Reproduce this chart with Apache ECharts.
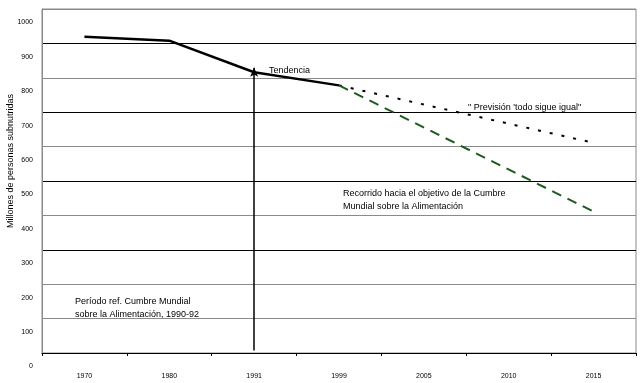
<!DOCTYPE html>
<html>
<head>
<meta charset="utf-8">
<script src="https://cdn.jsdelivr.net/npm/echarts@6/dist/echarts.min.js"></script>
<style>html,body{margin:0;padding:0;background:#fff;}#chart{width:641px;height:383px;}</style>
</head>
<body>
<div id="chart"></div>
<script>
// Data
var years = ['1970', '1980', '1991', '1999', '2005', '2010', '2015'];
var tendencia = [958, 947, 855, 817, null, null, null];
var prevision = [null, null, null, 817, null, null, 650];
var recorrido = [null, null, null, 817, null, null, 450];
var arrowYear = '1991';
var arrowRange = [46, 868];
var yTicks = [0, 100, 200, 300, 400, 500, 600, 700, 800, 900, 1000];

var FONT = '"Liberation Sans", Arial, sans-serif';
var chart = echarts.init(document.getElementById('chart'));

var gridColors = ['#000', '#8a8a8a', '#8a8a8a', '#000', '#8a8a8a', '#000', '#8a8a8a', '#000', '#8a8a8a', '#000', '#8a8a8a'];

function txt(x, y, s) {
  return { type: 'text', left: x, top: y, style: { text: s, fontFamily: FONT, fontSize: 9, fill: '#000', textVerticalAlign: 'middle' } };
}

chart.setOption({
  animation: false,
  backgroundColor: '#fff',
  grid: { left: 42, right: 5, top: 9, bottom: 30, show: true, borderColor: '#8a8a8a', borderWidth: 1 },
  xAxis: {
    type: 'category',
    data: years,
    boundaryGap: true,
    axisLine: { lineStyle: { color: '#000', width: 1 } },
    axisTick: { show: true, length: 3, lineStyle: { color: '#000' } },
    axisLabel: { fontFamily: FONT, fontSize: 7, color: '#000', margin: 20 },
    splitLine: { show: false }
  },
  yAxis: [
    {
      type: 'value',
      min: 0, max: 1000, interval: 100,
      axisLine: { show: true, lineStyle: { color: '#8a8a8a' } },
      axisTick: { show: false },
      axisLabel: {
        fontFamily: FONT, fontSize: 7, color: '#000', margin: 9,
        verticalAlign: 'top', lineHeight: 27,
        formatter: function (v) { return yTicks.indexOf(v) >= 0 ? String(v) : ''; }
      },
      splitLine: { show: true, lineStyle: { color: gridColors, width: 1 } }
    },
    {
      type: 'value',
      min: 39, max: 1039,
      show: false,
      splitLine: { show: false }
    }
  ],
  graphic: [
    {
      type: 'text', x: 11, y: 161, rotation: Math.PI / 2,
      style: { text: 'Millones de personas subnutridas', fontFamily: FONT, fontSize: 9, fill: '#000', textAlign: 'center', textVerticalAlign: 'middle' }
    },
    txt(269, 66, 'Tendencia'),
    txt(468, 103, '" Previsión \'todo sigue igual"'),
    txt(343, 189, 'Recorrido hacia el objetivo de la Cumbre'),
    txt(343, 202, 'Mundial sobre la Alimentación'),
    txt(75, 297, 'Período ref. Cumbre Mundial'),
    txt(75, 310, 'sobre la Alimentación, 1990-92')
  ],
  series: [
    {
      name: 'Tendencia', type: 'line', yAxisIndex: 1, data: tendencia,
      showSymbol: false, symbol: 'none',
      lineStyle: { color: '#000', width: 2.5 },
      markLine: {
        silent: true,
        symbol: ['none', 'arrow'], symbolSize: [6, 9],
        label: { show: false },
        lineStyle: { color: '#000', width: 1.5, type: 'solid' },
        data: [[{ coord: [arrowYear, arrowRange[0]] }, { coord: [arrowYear, arrowRange[1]] }]]
      },
      z: 5
    },
    {
      name: 'Previsión', type: 'line', yAxisIndex: 1, data: prevision, connectNulls: true,
      showSymbol: false, symbol: 'none',
      lineStyle: { color: '#000', width: 2, type: [3, 9] }
    },
    {
      name: 'Recorrido', type: 'line', yAxisIndex: 1, data: recorrido, connectNulls: true,
      showSymbol: false, symbol: 'none',
      lineStyle: { color: '#1e5a1e', width: 2, type: [10, 7] }
    }
  ]
});
</script>
</body>
</html>
